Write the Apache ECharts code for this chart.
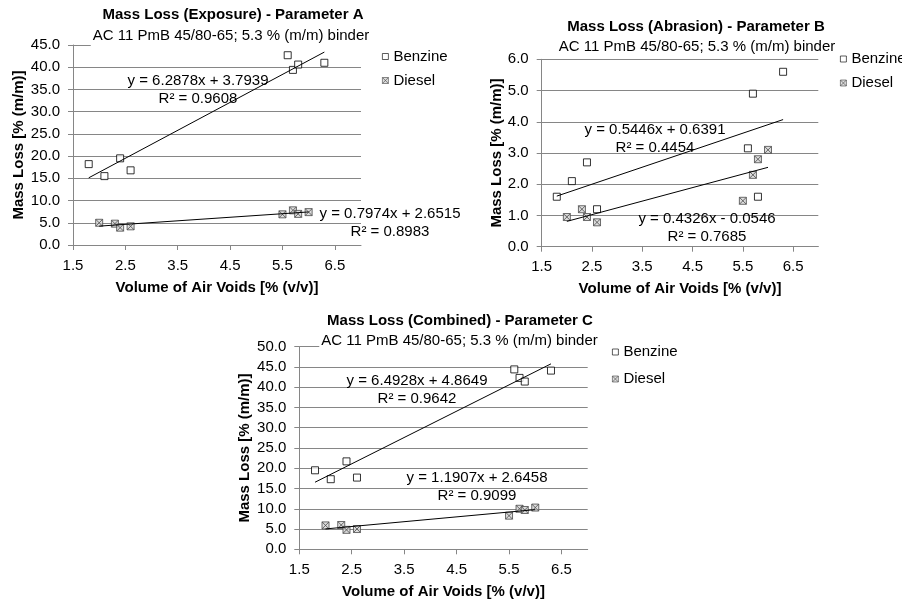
<!DOCTYPE html>
<html>
<head>
<meta charset="utf-8">
<title>Mass Loss</title>
<script src="https://cdn.jsdelivr.net/npm/echarts@6/dist/echarts.min.js"></script>
<style>
  html, body { margin: 0; padding: 0; background: #fff; }
  #myChart { width: 902px; height: 604px; }
</style>
</head>
<body>
<div id="myChart"></div>
<script>
// air voids [% (v/v)] of the specimens
var benzineVoids = [1.8, 2.1, 2.4, 2.6, 5.6, 5.7, 5.8, 6.3];
var dieselVoids = [2.0, 2.3, 2.4, 2.6, 5.5, 5.7, 5.8, 6.0];

// mass loss [% (m/m)]
var exposureBenzine = [18.2, 15.5, 19.5, 16.8, 42.7, 39.4, 40.6, 41.0];
var exposureDiesel = [5.0, 4.8, 3.9, 4.2, 6.9, 7.8, 7.0, 7.4];
var abrasionBenzine = [1.6, 2.1, 2.7, 1.2, 3.15, 4.9, 1.6, 5.6];
var abrasionDiesel = [0.95, 1.2, 0.95, 0.78, 1.47, 2.3, 2.8, 3.1];
var combinedBenzine = [19.5, 17.3, 21.7, 17.7, 44.4, 42.3, 41.4, 44.1];
var combinedDiesel = [5.9, 6.0, 4.8, 5.0, 8.3, 10.0, 9.7, 10.3];

// linear trendlines: [slope, intercept, R²]
var trendExposureBenzine = [6.2878, 3.7939, 0.9608];
var trendExposureDiesel = [0.7974, 2.6515, 0.8983];
var trendAbrasionBenzine = [0.5446, 0.6391, 0.4454];
var trendAbrasionDiesel = [0.4326, -0.0546, 0.7685];
var trendCombinedBenzine = [6.4928, 4.8649, 0.9642];
var trendCombinedDiesel = [1.1907, 2.6458, 0.9099];

var titles = ['Mass Loss (Exposure) - Parameter A', 'Mass Loss (Abrasion) - Parameter B', 'Mass Loss (Combined) - Parameter C'];
var subTitle = 'AC 11 PmB 45/80-65; 5.3 % (m/m) binder';
var legendNames = ['Benzine', 'Diesel'];
var xName = 'Volume of Air Voids [% (v/v)]';
var yName = 'Mass Loss [% (m/m)]';
var yMax = [45, 6, 50];
var yStep = [5, 1, 5];

var FONT = '"Liberation Sans", Arial, sans-serif';
var GRID_COLOR = '#868686';
var dieselSymbol = 'path://M0,0L10,0L10,10L0,10Z M0,0L10,10 M10,0L0,10';

// layout of the three panels (pixels)
var panels = [
    { grid: [73, 45, 288, 200], title: [233, 7.5], sub: [229, 27], legend: [382, 49], gap: 9, yGap: 47,
      eq: [[198, 72], [390, 205]] },
    { grid: [541.7, 59.3, 276.6, 187.4], title: [696, 19.5], sub: [695, 38], legend: [840, 51.5], gap: 9, yGap: 36,
      eq: [[655, 121], [707, 210]] },
    { grid: [299.3, 346.7, 288.4, 202.6], title: [460, 313], sub: [457.5, 332], legend: [612, 344.5], gap: 12, yGap: 47,
      eq: [[417, 372], [477, 469]] }
];

var pointSets = [
    [exposureBenzine, exposureDiesel, trendExposureBenzine, trendExposureDiesel],
    [abrasionBenzine, abrasionDiesel, trendAbrasionBenzine, trendAbrasionDiesel],
    [combinedBenzine, combinedDiesel, trendCombinedBenzine, trendCombinedDiesel]
];

function pairs(xs, ys) {
    return xs.map(function (x, i) { return [x, ys[i]]; });
}

function trendLine(xs, t) {
    var lo = Math.min.apply(null, xs), hi = Math.max.apply(null, xs);
    return [[lo, t[0] * lo + t[1]], [hi, t[0] * hi + t[1]]];
}

function eqText(t) {
    var sign = t[1] < 0 ? ' - ' : ' + ';
    return 'y = ' + t[0].toFixed(4) + 'x' + sign + Math.abs(t[1]).toFixed(4) + '\nR² = ' + t[2].toFixed(4);
}

var option = {
    animation: false,
    backgroundColor: '#fff',
    textStyle: { fontFamily: FONT, fontSize: 15, color: '#000' },
    title: [], legend: [], grid: [], xAxis: [], yAxis: [], series: [], graphic: []
};

panels.forEach(function (p, k) {
    option.title.push({
        text: titles[k], left: p.title[0], top: p.title[1], textAlign: 'center', padding: 0,
        textStyle: { fontFamily: FONT, fontSize: 15, fontWeight: 'bold', color: '#000' }
    });
    option.title.push({
        text: subTitle, left: p.sub[0], top: p.sub[1], textAlign: 'center', padding: [1, 2, 3, 2],
        backgroundColor: '#fff',
        textStyle: { fontFamily: FONT, fontSize: 15, fontWeight: 'normal', color: '#000' }
    });
    option.legend.push({
        data: legendNames, orient: 'vertical', left: p.legend[0], top: p.legend[1], padding: 0,
        itemWidth: 6, itemHeight: 6, itemGap: p.gap,
        itemStyle: { borderWidth: 0.8 },
        textStyle: { fontFamily: FONT, fontSize: 15, color: '#000' }
    });
    option.grid.push({ left: p.grid[0], top: p.grid[1], width: p.grid[2], height: p.grid[3] });
    option.xAxis.push({
        type: 'value', gridIndex: k, min: 1.5, max: 7, interval: 1,
        name: xName, nameLocation: 'middle', nameGap: 35,
        nameTextStyle: { fontFamily: FONT, fontSize: 15, fontWeight: 'bold', color: '#000' },
        axisLine: { show: true, lineStyle: { color: GRID_COLOR } },
        axisTick: { show: true, length: 5, lineStyle: { color: GRID_COLOR } },
        axisLabel: { margin: 13, color: '#000', fontSize: 15, showMaxLabel: false,
            formatter: function (v) { return v.toFixed(1); } },
        splitLine: { show: false }
    });
    option.yAxis.push({
        type: 'value', gridIndex: k, min: 0, max: yMax[k], interval: yStep[k],
        name: yName, nameLocation: 'middle', nameGap: p.yGap,
        nameTextStyle: { fontFamily: FONT, fontSize: 15, fontWeight: 'bold', color: '#000' },
        axisLine: { show: true, lineStyle: { color: GRID_COLOR } },
        axisTick: { show: true, length: 5, lineStyle: { color: GRID_COLOR } },
        axisLabel: { margin: 13, color: '#000', fontSize: 15,
            formatter: function (v) { return v.toFixed(1); } },
        splitLine: { show: true, lineStyle: { color: GRID_COLOR, width: 1 } }
    });

    var d = pointSets[k];
    option.series.push({
        name: 'Benzine', type: 'scatter', xAxisIndex: k, yAxisIndex: k,
        symbol: 'rect', symbolSize: 7, z: 3,
        itemStyle: { color: '#fff', borderColor: '#000', borderWidth: 1 },
        data: pairs(benzineVoids, d[0])
    });
    option.series.push({
        name: 'Diesel', type: 'scatter', xAxisIndex: k, yAxisIndex: k,
        symbol: dieselSymbol, symbolSize: 7, z: 3,
        itemStyle: { color: '#d4d4d4', borderColor: '#4a4a4a', borderWidth: 1 },
        data: pairs(dieselVoids, d[1])
    });
    option.series.push({
        name: 'Linear (Benzine)', type: 'line', xAxisIndex: k, yAxisIndex: k,
        symbol: 'none', silent: true, z: 4,
        lineStyle: { color: '#000', width: 1 },
        data: trendLine(benzineVoids, d[2])
    });
    option.series.push({
        name: 'Linear (Diesel)', type: 'line', xAxisIndex: k, yAxisIndex: k,
        symbol: 'none', silent: true, z: 4,
        lineStyle: { color: '#000', width: 1 },
        data: trendLine(dieselVoids, d[3])
    });

    // trendline equations
    [d[2], d[3]].forEach(function (t, j) {
        option.graphic.push({
            type: 'text', x: p.eq[j][0], y: p.eq[j][1], z: 100,
            style: { text: eqText(t), fontFamily: FONT, fontSize: 15, fill: '#000',
                align: 'center', verticalAlign: 'top', lineHeight: 18 }
        });
    });
});

var myChart = echarts.init(document.getElementById('myChart'));
myChart.setOption(option);
</script>
</body>
</html>
